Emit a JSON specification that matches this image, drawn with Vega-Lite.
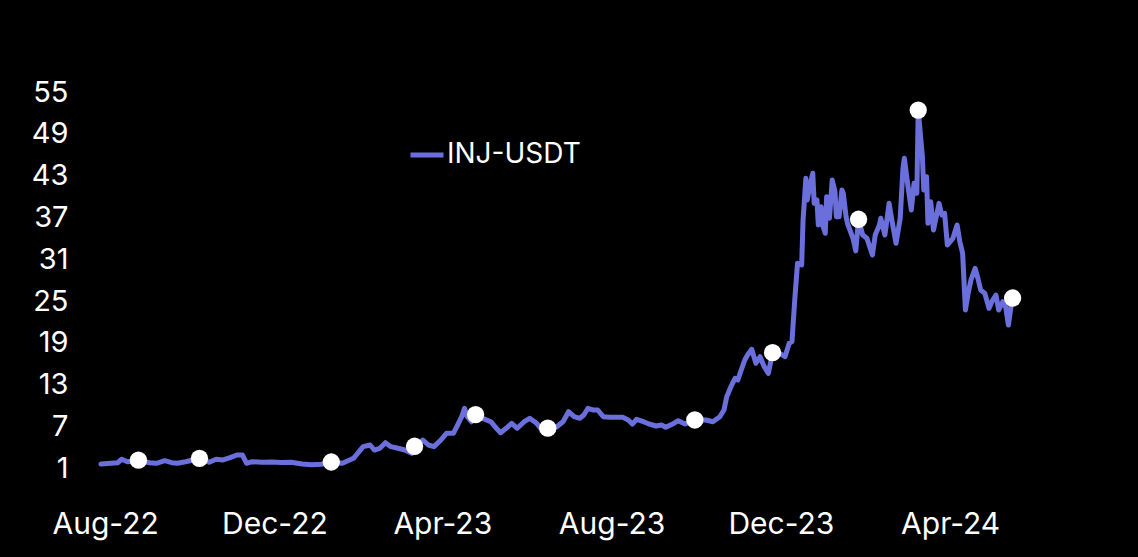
{
"$schema": "https://vega.github.io/schema/vega-lite/v6.json",
"width": 1015, "height": 418,
"autosize": {"type": "none"},
"padding": {"left": 85, "top": 92, "right": 38, "bottom": 47},
"background": "#000000",
"config": {"view": {"stroke": null}, "font": "Inter"},
"data": {"values": [
{"d":"2022-07-29","v":1.6},{"d":"2022-08-10","v":1.79},{"d":"2022-08-13","v":2.28},{"d":"2022-08-17","v":1.93},{"d":"2022-08-25","v":2.15,"m":1},
{"d":"2022-09-02","v":1.79},{"d":"2022-09-07","v":1.7},{"d":"2022-09-13","v":2.08},{"d":"2022-09-18","v":1.79},{"d":"2022-09-22","v":1.7},{"d":"2022-09-28","v":1.93},
{"d":"2022-10-08","v":2.4,"m":1},{"d":"2022-10-15","v":1.85},{"d":"2022-10-20","v":2.28},{"d":"2022-10-25","v":2.18},{"d":"2022-10-30","v":2.51},
{"d":"2022-11-04","v":2.89},{"d":"2022-11-08","v":2.89},{"d":"2022-11-11","v":1.7},{"d":"2022-11-15","v":1.93},{"d":"2022-11-22","v":1.85},{"d":"2022-11-29","v":1.9},
{"d":"2022-12-06","v":1.82},{"d":"2022-12-13","v":1.85},{"d":"2022-12-21","v":1.6},{"d":"2022-12-28","v":1.5},
{"d":"2023-01-04","v":1.56},{"d":"2023-01-11","v":1.89,"m":1},{"d":"2023-01-19","v":1.7},{"d":"2023-01-27","v":2.42},{"d":"2023-01-31","v":3.37},
{"d":"2023-02-03","v":4.09},{"d":"2023-02-08","v":4.33},{"d":"2023-02-11","v":3.61},{"d":"2023-02-15","v":3.86},{"d":"2023-02-19","v":4.66},{"d":"2023-02-23","v":4.09},{"d":"2023-02-28","v":3.86},
{"d":"2023-03-05","v":3.61},{"d":"2023-03-10","v":3.14},{"d":"2023-03-12","v":4.15,"m":1},{"d":"2023-03-18","v":5.05},{"d":"2023-03-22","v":4.33},{"d":"2023-03-26","v":4.09},{"d":"2023-03-31","v":5.05},
{"d":"2023-04-04","v":6.01},{"d":"2023-04-09","v":6.01},{"d":"2023-04-12","v":7.2},{"d":"2023-04-15","v":8.39},{"d":"2023-04-17","v":9.6},{"d":"2023-04-19","v":8.39},{"d":"2023-04-22","v":7.67},{"d":"2023-04-25","v":8.7,"m":1},{"d":"2023-04-30","v":8.16},
{"d":"2023-05-06","v":7.67},{"d":"2023-05-10","v":6.73},{"d":"2023-05-13","v":6.1},{"d":"2023-05-17","v":6.73},{"d":"2023-05-21","v":7.44},{"d":"2023-05-25","v":6.73},{"d":"2023-05-30","v":7.67},
{"d":"2023-06-03","v":8.16},{"d":"2023-06-08","v":7.44},{"d":"2023-06-11","v":6.73},{"d":"2023-06-16","v":6.75,"m":1},{"d":"2023-06-22","v":6.87},{"d":"2023-06-27","v":7.67},
{"d":"2023-07-01","v":9.11},{"d":"2023-07-05","v":8.39},{"d":"2023-07-09","v":8.16},{"d":"2023-07-12","v":8.64},{"d":"2023-07-15","v":9.6},{"d":"2023-07-19","v":9.35},{"d":"2023-07-22","v":9.35},{"d":"2023-07-26","v":8.39},{"d":"2023-07-31","v":8.3},
{"d":"2023-08-04","v":8.3},{"d":"2023-08-09","v":8.3},{"d":"2023-08-13","v":7.92},{"d":"2023-08-16","v":7.34},{"d":"2023-08-19","v":8.02},{"d":"2023-08-24","v":7.67},{"d":"2023-08-28","v":7.34},
{"d":"2023-09-02","v":7.06},{"d":"2023-09-06","v":7.2},{"d":"2023-09-09","v":6.87},{"d":"2023-09-14","v":7.34},{"d":"2023-09-18","v":7.82},{"d":"2023-09-23","v":7.34},{"d":"2023-09-30","v":7.92,"m":1},
{"d":"2023-10-08","v":7.92},{"d":"2023-10-13","v":7.67},{"d":"2023-10-18","v":8.39},{"d":"2023-10-21","v":9.35},{"d":"2023-10-23","v":11.26},{"d":"2023-10-26","v":12.7},{"d":"2023-10-29","v":13.9},{"d":"2023-10-31","v":13.66},
{"d":"2023-11-02","v":14.85},{"d":"2023-11-05","v":16.53},{"d":"2023-11-07","v":17.25},{"d":"2023-11-10","v":18.07},{"d":"2023-11-13","v":16.06},{"d":"2023-11-16","v":17.0},{"d":"2023-11-19","v":15.57},{"d":"2023-11-22","v":14.62},{"d":"2023-11-25","v":17.58,"m":1},{"d":"2023-11-30","v":17.5},
{"d":"2023-12-04","v":17.0},{"d":"2023-12-07","v":18.93},{"d":"2023-12-09","v":19.16},{"d":"2023-12-11","v":25.14},{"d":"2023-12-13","v":30.41},{"d":"2023-12-16","v":30.17},{"d":"2023-12-17","v":36.62},{"d":"2023-12-19","v":42.61},{"d":"2023-12-20","v":39.5},{"d":"2023-12-22","v":41.65},{"d":"2023-12-24","v":43.33},{"d":"2023-12-25","v":39.02},{"d":"2023-12-27","v":39.5},{"d":"2023-12-28","v":35.91},{"d":"2023-12-30","v":38.53},{"d":"2023-12-31","v":35.91},
{"d":"2024-01-02","v":34.72},{"d":"2024-01-03","v":39.97},{"d":"2024-01-05","v":36.87},{"d":"2024-01-07","v":42.37},{"d":"2024-01-09","v":40.69},{"d":"2024-01-10","v":37.1},{"d":"2024-01-12","v":37.1},{"d":"2024-01-14","v":40.93},{"d":"2024-01-15","v":40.46},{"d":"2024-01-17","v":37.1},{"d":"2024-01-18","v":36.15},{"d":"2024-01-22","v":34.0},{"d":"2024-01-24","v":32.2},{"d":"2024-01-26","v":36.73,"m":1},{"d":"2024-01-29","v":34.47},
{"d":"2024-02-01","v":34.0},{"d":"2024-02-05","v":31.6},{"d":"2024-02-07","v":34.47},{"d":"2024-02-10","v":35.91},{"d":"2024-02-11","v":36.87},{"d":"2024-02-14","v":34.47},{"d":"2024-02-17","v":39.02},{"d":"2024-02-19","v":36.62},{"d":"2024-02-22","v":33.28},{"d":"2024-02-25","v":36.87},{"d":"2024-02-27","v":44.05},{"d":"2024-02-28","v":45.48},
{"d":"2024-03-01","v":42.37},{"d":"2024-03-04","v":38.06},{"d":"2024-03-06","v":41.89},{"d":"2024-03-08","v":40.46},{"d":"2024-03-09","v":52.41,"m":1},{"d":"2024-03-12","v":45.71},{"d":"2024-03-13","v":40.93},{"d":"2024-03-15","v":42.84},{"d":"2024-03-16","v":36.15},{"d":"2024-03-18","v":39.25},{"d":"2024-03-20","v":35.19},{"d":"2024-03-24","v":39.02},{"d":"2024-03-26","v":37.34},{"d":"2024-03-28","v":37.59},{"d":"2024-03-30","v":33.04},
{"d":"2024-04-03","v":34.0},{"d":"2024-04-06","v":35.91},{"d":"2024-04-08","v":33.51},{"d":"2024-04-10","v":31.84},{"d":"2024-04-12","v":23.71},{"d":"2024-04-14","v":26.1},{"d":"2024-04-16","v":28.01},{"d":"2024-04-19","v":29.69},{"d":"2024-04-21","v":28.26},{"d":"2024-04-23","v":26.58},{"d":"2024-04-26","v":26.1},{"d":"2024-04-29","v":23.95},
{"d":"2024-05-01","v":24.9},{"d":"2024-05-04","v":25.86},{"d":"2024-05-06","v":23.71},{"d":"2024-05-09","v":24.9},{"d":"2024-05-11","v":24.18},{"d":"2024-05-13","v":21.55},{"d":"2024-05-15","v":24.42},{"d":"2024-05-16","v":25.43,"m":1}
]},
"layer": [
{"mark": {"type": "line", "strokeWidth": 5, "strokeJoin": "round", "strokeCap": "round"},
 "encoding": {
  "x": {"field": "d", "type": "temporal",
   "scale": {"type": "utc", "domain": [{"year": 2022, "month": 7, "date": 17, "hours": 12, "utc": true}, {"year": 2024, "month": 7, "date": 18, "utc": true}]},
   "axis": {"values": [{"year": 2022, "month": 8, "date": 1, "utc": true}, {"year": 2022, "month": 12, "date": 1, "utc": true}, {"year": 2023, "month": 4, "date": 1, "utc": true}, {"year": 2023, "month": 8, "date": 1, "utc": true}, {"year": 2023, "month": 12, "date": 1, "utc": true}, {"year": 2024, "month": 4, "date": 1, "utc": true}],
    "format": "%b-%y", "title": null, "domain": false, "ticks": false, "grid": false, "labelColor": "#ffffff", "labelFontSize": 30, "labelPadding": -1, "labelFont": "Inter", "labelFontWeight": "normal"}},
  "y": {"field": "v", "type": "quantitative",
   "scale": {"domain": [-5, 55], "nice": false, "zero": false},
   "axis": {"values": [1, 7, 13, 19, 25, 31, 37, 43, 49, 55], "title": null, "domain": false, "ticks": false, "grid": false, "labelColor": "#ffffff", "labelFontSize": 29, "labelPadding": 17, "labelFont": "Inter"}},
  "color": {"datum": "INJ-USDT", "type": "nominal", "scale": {"range": ["#6a6fdb"]},
   "legend": {"orient": "none", "legendX": 323, "legendY": 44, "title": null, "symbolType": "stroke", "symbolStrokeWidth": 5, "symbolSize": 1089, "labelColor": "#ffffff", "labelFontSize": 28, "labelFont": "Inter", "labelOffset": 1, "labelLimit": 400}}
 }},
{"transform": [{"filter": "datum.m == 1"}],
 "mark": {"type": "point", "filled": true, "color": "#ffffff", "opacity": 1, "size": 300},
 "encoding": {
  "x": {"field": "d", "type": "temporal"},
  "y": {"field": "v", "type": "quantitative"}
 }}
]
}
